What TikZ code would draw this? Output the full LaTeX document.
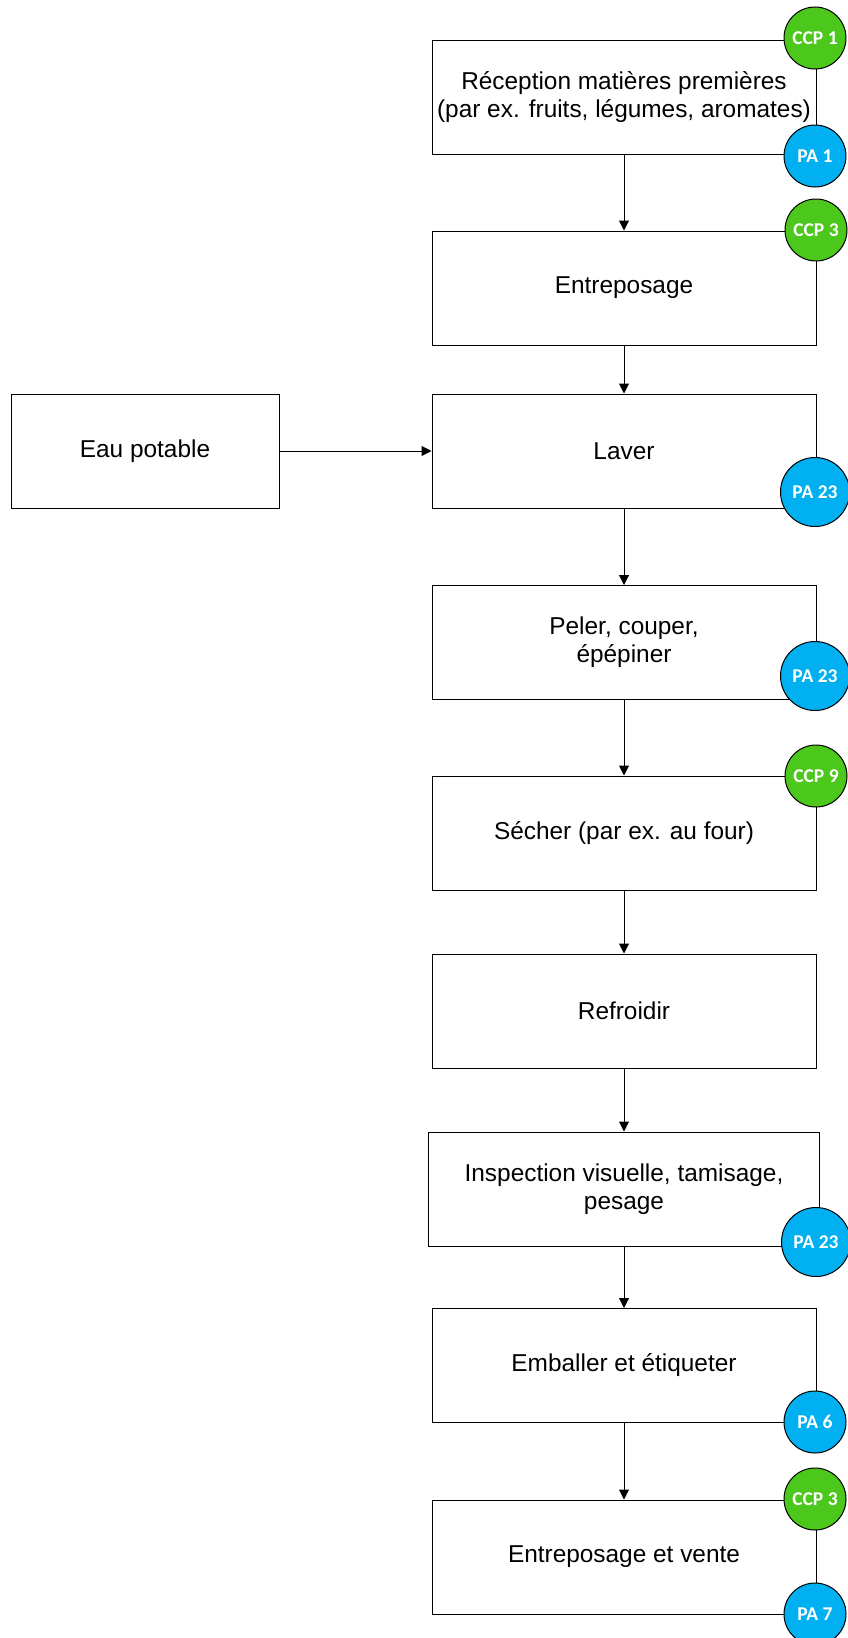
\documentclass[tikz,border=0pt]{standalone}
\usepackage{fontspec}
\setmainfont{Liberation Sans}
\newfontfamily\circfont{Carlito}
\usepackage{xcolor}
\usetikzlibrary{arrows.meta}
\definecolor{vertccp}{HTML}{4CC81C}
\definecolor{bleupa}{HTML}{00B0F0}

\begin{document}
\begin{tikzpicture}[x=1pt,y=-1pt,
    etape/.style={draw,line width=1pt,minimum width=384pt,minimum height=114pt,align=center,font=\fontsize{24.4}{28}\selectfont},
    pastille/.style={circle,draw,line width=1pt,text=white,minimum size=62pt,inner sep=0pt,font=\circfont\bfseries\fontsize{19.5}{20}\selectfont},
    ccp/.style={pastille,fill=vertccp},
    pa/.style={pastille,fill=bleupa},
    fleche/.style={-{Triangle[length=10pt,width=10pt]},line width=1pt}]
        \useasboundingbox (0,0) rectangle (848,1638);

        % etapes
        \node[etape] (reception) at (624,97) {R\'eception mati\`eres premi\`eres\\(par ex. fruits, l\'egumes, aromates)};
        \node[etape] (entrepot) at (624,288) {Entreposage};
        \node[etape] (laver) at (624,451) {Laver};
        \node[etape] (peler) at (624,642.5) {Peler, couper,\\\'ep\'epiner};
        \node[etape] (secher) at (624,833) {S\'echer (par ex. au four)};
        \node[etape] (refroidir) at (624,1011) {Refroidir};
        \node[etape,minimum width=391pt] (inspection) at (624,1189) {Inspection visuelle, tamisage,\\pesage};
        \node[etape] (emballer) at (624,1365.5) {Emballer et \'etiqueter};
        \node[etape] (vente) at (624,1557) {Entreposage et vente};
        \node[etape,minimum width=268pt] (eau) at (145,451) {Eau potable};

        \draw[fleche] (reception) -- (entrepot);
        \draw[fleche] (entrepot) -- (laver);
        \draw[fleche] (laver) -- (peler);
        \draw[fleche] (peler) -- (secher);
        \draw[fleche] (secher) -- (refroidir);
        \draw[fleche] (refroidir) -- (inspection);
        \draw[fleche] (inspection) -- (emballer);
        \draw[fleche] (emballer) -- (vente);
        \draw[fleche] (eau) -- (laver);

        % pastilles CCP / PA
        \node[ccp] (ccp1) at (815,38) {CCP 1};
        \node[pa] (pa1) at (815,156) {PA 1};
        \node[ccp] (ccp3) at (816,230) {CCP 3};
        \node[pa,minimum size=69pt] (pa23a) at (815,492) {PA 23};
        \node[pa,minimum size=69pt] (pa23b) at (815,676) {PA 23};
        \node[ccp] (ccp9) at (816,776) {CCP 9};
        \node[pa,minimum size=69pt] (pa23c) at (816,1242) {PA 23};
        \node[pa] (pa6) at (815,1422) {PA 6};
        \node[ccp] (ccp3b) at (815,1499) {CCP 3};
        \node[pa] (pa7) at (815,1614) {PA 7};
      \end{tikzpicture}
\end{document}
